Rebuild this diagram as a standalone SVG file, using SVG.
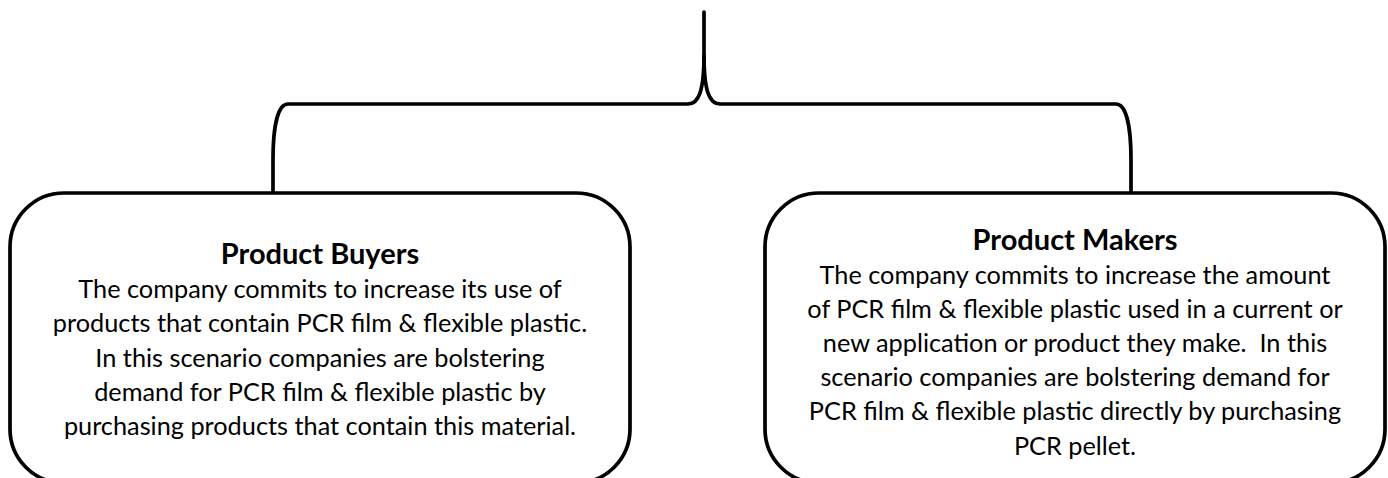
<svg xmlns="http://www.w3.org/2000/svg" width="1388" height="478" viewBox="0 0 1388 478">
<style>
.ln{fill:none;stroke:#000;stroke-width:3.7;stroke-linecap:round;stroke-linejoin:round}
.box{fill:#fff;stroke:#000;stroke-width:3.7}
text{font-family:Lato,"Liberation Sans",sans-serif;font-size:25.3px;fill:#000;text-anchor:middle}
.t{font-weight:bold;font-size:29px}
</style>
<rect width="1388" height="478" fill="#fff"/>
<g id="connectors">
<path class="ln" d="M704,12 L704,55 C704,90 699,104 688,104 L288,104 C279,104 273,122 273,160 L273,193"/>
<path class="ln" d="M704,55 C704,90 709,104 720,104 L1116,104 C1125,104 1131,122 1131,160 L1131,193"/>
</g>
<g id="product-buyers">
<rect class="box" x="10" y="193" width="620" height="290" rx="54" ry="54"/>
<text class="t" x="320" y="264">Product Buyers</text>
<text x="320" y="298">The company commits to increase its use of</text>
<text x="320" y="332">products that contain PCR film &amp; flexible plastic.</text>
<text x="320" y="367">In this scenario companies are bolstering</text>
<text x="320" y="401">demand for PCR film &amp; flexible plastic by</text>
<text x="320" y="435">purchasing products that contain this material.</text>
</g>
<g id="product-makers">
<rect class="box" x="765" y="193" width="620" height="290" rx="54" ry="54"/>
<text class="t" x="1075" y="250">Product Makers</text>
<text x="1075" y="284">The company commits to increase the amount</text>
<text x="1075" y="318">of PCR film &amp; flexible plastic used in a current or</text>
<text x="1075" y="352" xml:space="preserve">new application or product they make.  In this</text>
<text x="1075" y="386">scenario companies are bolstering demand for</text>
<text x="1075" y="420">PCR film &amp; flexible plastic directly by purchasing</text>
<text x="1075" y="455">PCR pellet.</text>
</g>
</svg>
